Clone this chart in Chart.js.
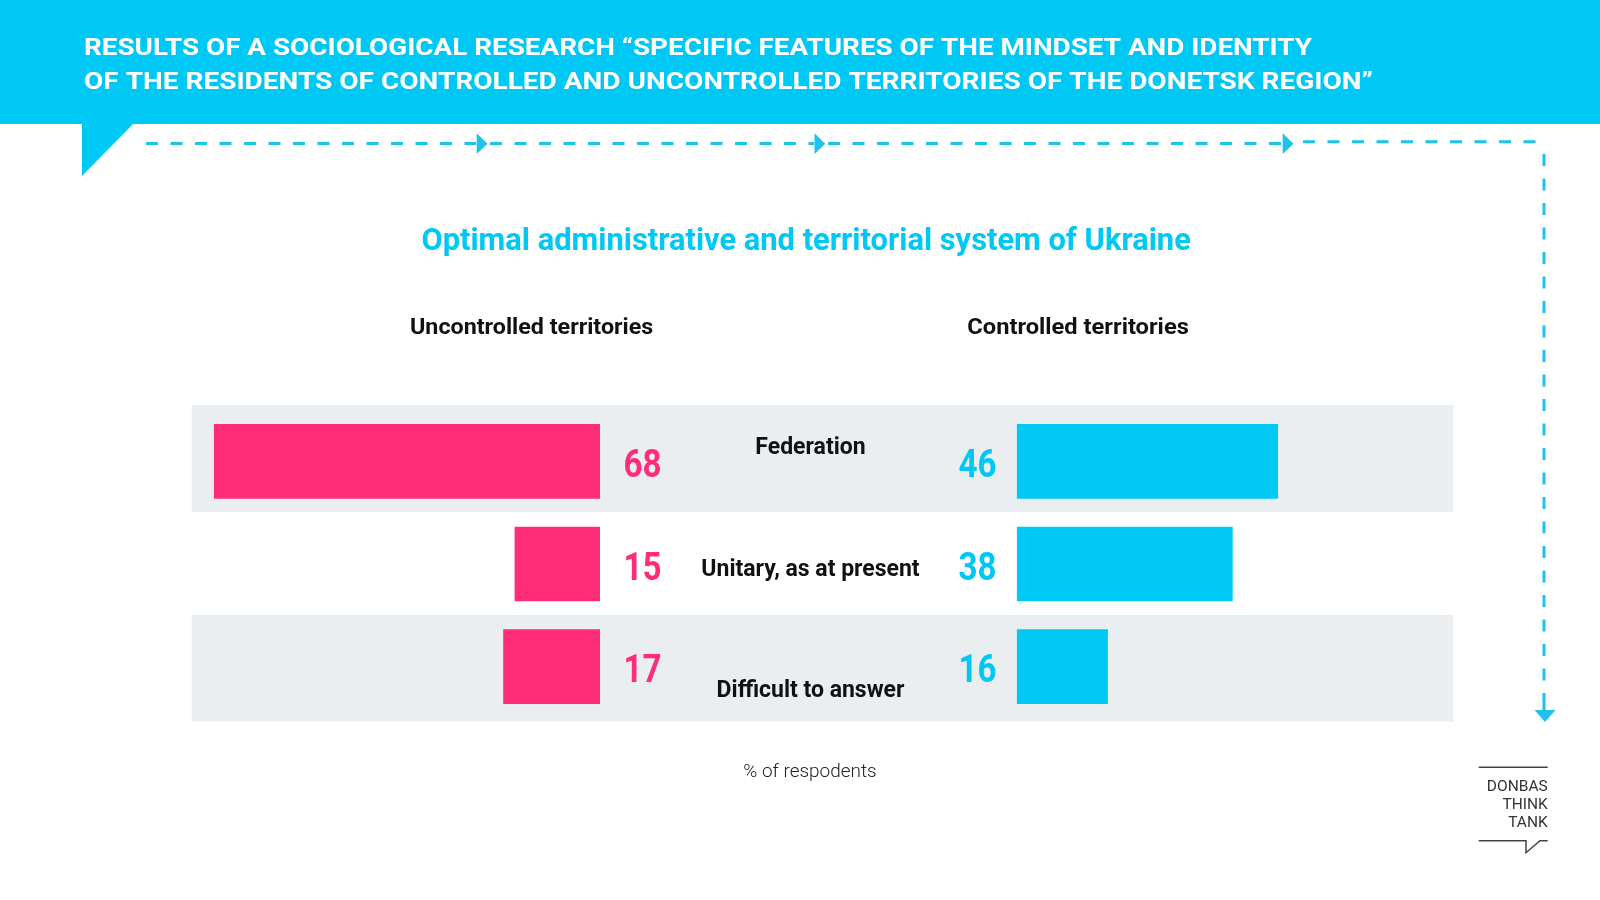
<!DOCTYPE html>
<html>
<head>
<meta charset="utf-8">
<script src="https://cdn.jsdelivr.net/npm/chart.js@4.4.0/dist/chart.umd.min.js"></script>
<style>
html,body{margin:0;padding:0;background:#fff;width:1600px;height:900px;overflow:hidden}
#page{position:relative;width:1600px;height:900px;background:#fff}
canvas{position:absolute}
</style>
</head>
<body>
<div id="page">
<canvas id="deco" width="1600" height="900" style="left:0;top:0"></canvas>
<canvas id="leftChart" width="540" height="308" style="left:140px;top:410px"></canvas>
<canvas id="rightChart" width="800" height="308" style="left:680px;top:410px"></canvas>
</div>
<script>
// ---------- data ----------
const categories = ['Federation', 'Unitary, as at present', 'Difficult to answer'];
const uncontrolled = [68, 15, 17];
const controlled = [46, 38, 16];
const seriesNames = ['Uncontrolled territories', 'Controlled territories'];
const axisMax = 80;
const headerLines = [
  'RESULTS OF A SOCIOLOGICAL RESEARCH \u201CSPECIFIC FEATURES OF THE MINDSET AND IDENTITY',
  'OF THE RESIDENTS OF CONTROLLED AND UNCONTROLLED TERRITORIES OF THE DONETSK REGION\u201D'
];
const titleText = 'Optimal administrative and territorial system of Ukraine';
const footnote = '% of respodents';
const logoLines = ['DONBAS', 'THINK', 'TANK'];

// ---------- style ----------
const CYAN = '#00C8F5';
const DASH = '#1EC2EC';
const PINK = '#FF2D78';
const BAND = '#EBEEF1';
const FONT = 'Roboto, "Liberation Sans", "DejaVu Sans", sans-serif';
const catLabelDy = [-7.4, 11.7, 30.3];

function fitText(ctx, text, x, y, w, font, color, align) {
  ctx.save();
  ctx.font = font;
  ctx.fillStyle = color;
  ctx.textBaseline = 'alphabetic';
  ctx.textAlign = 'left';
  const m = ctx.measureText(text).width;
  const s = w / m;
  let left = x;
  if (align === 'center') left = x - w / 2;
  else if (align === 'right') left = x - w;
  ctx.translate(left, y);
  ctx.scale(s, 1);
  ctx.fillText(text, 0, 0);
  ctx.restore();
}
function scaledText(ctx, text, x, y, font, color, align, sx) {
  ctx.save();
  ctx.font = font;
  ctx.fillStyle = color;
  ctx.textBaseline = 'alphabetic';
  ctx.textAlign = 'left';
  const w = ctx.measureText(text).width * sx;
  let left = x;
  if (align === 'center') left = x - w / 2;
  else if (align === 'right') left = x - w;
  ctx.translate(left, y);
  ctx.scale(sx, 1);
  ctx.fillText(text, 0, 0);
  ctx.restore();
}

// ---------- decoration ----------
(function drawDeco() {
  const c = document.getElementById('deco');
  const ctx = c.getContext('2d');
  ctx.fillStyle = '#fff';
  ctx.fillRect(0, 0, 1600, 900);
  // header
  ctx.fillStyle = CYAN;
  ctx.fillRect(0, 0, 1600, 124);
  ctx.beginPath();
  ctx.moveTo(82, 123); ctx.lineTo(134, 123); ctx.lineTo(82, 176); ctx.closePath();
  ctx.fill();
  fitText(ctx, headerLines[0], 84, 54.5, 1228, 'bold 24.5px ' + FONT, '#fff', 'left');
  fitText(ctx, headerLines[1], 84, 89.2, 1289, 'bold 24.5px ' + FONT, '#fff', 'left');

  // dashed flow line
  ctx.save();
  ctx.strokeStyle = DASH;
  ctx.lineWidth = 3;
  ctx.setLineDash([12, 12.5]);
  const segs = [[146, 476], [490, 814], [828, 1282]];
  segs.forEach(s => { ctx.beginPath(); ctx.moveTo(s[0], 143.6); ctx.lineTo(s[1], 143.6); ctx.stroke(); });
  ctx.beginPath(); ctx.moveTo(1303, 141.7); ctx.lineTo(1545.5, 141.7); ctx.stroke();
  ctx.beginPath(); ctx.moveTo(1544, 154); ctx.lineTo(1544, 706); ctx.stroke();
  ctx.restore();
  ctx.fillStyle = DASH;
  [476.7, 814.5, 1282.7].forEach(ax => {
    ctx.beginPath();
    ctx.moveTo(ax, 133.3); ctx.lineTo(ax + 10.8, 143.7); ctx.lineTo(ax, 154.1); ctx.closePath(); ctx.fill();
  });
  ctx.beginPath();
  ctx.moveTo(1534.5, 710); ctx.lineTo(1555.5, 710); ctx.lineTo(1545, 722); ctx.closePath(); ctx.fill();
  ctx.fillRect(1542.5, 705, 3, 6);

  // title & series headers
  fitText(ctx, titleText, 806.1, 249.5, 769.4, 'bold 32px ' + FONT, CYAN, 'center');
  fitText(ctx, seriesNames[0], 410, 334, 243.3, 'bold 22px ' + FONT, '#111', 'left');
  fitText(ctx, seriesNames[1], 967.3, 334, 221.5, 'bold 22px ' + FONT, '#111', 'left');

  // row bands
  ctx.fillStyle = BAND;
  ctx.fillRect(191.7, 405, 1453.5 - 191.7, 107);
  ctx.fillRect(191.7, 615, 1453.5 - 191.7, 106.5);

  // footnote
  fitText(ctx, footnote, 743.3, 777.3, 133.4, '300 19px ' + FONT, '#222', 'left');

  // logo
  ctx.strokeStyle = '#444';
  ctx.lineWidth = 1.5;
  ctx.beginPath(); ctx.moveTo(1478.7, 767.3); ctx.lineTo(1547.7, 767.3); ctx.stroke();
  ctx.beginPath();
  ctx.moveTo(1478.7, 840.7); ctx.lineTo(1526, 840.7); ctx.lineTo(1526, 852.7);
  ctx.lineTo(1540, 840.7); ctx.lineTo(1547.7, 840.7); ctx.stroke();
  const lb = [791, 809.3, 827.2];
  logoLines.forEach((t, i) => scaledText(ctx, t, 1547.7, lb[i], '15.5px ' + FONT, '#333', 'right', 1.0));
})();

// ---------- charts ----------
const valueLabels = {
  id: 'valueLabels',
  afterDatasetsDraw(chart, args, opts) {
    const ctx = chart.ctx;
    const meta = chart.getDatasetMeta(0);
    meta.data.forEach((el, i) => {
      const v = chart.data.datasets[0].data[i];
      if (opts.side === 'left') {
        scaledText(ctx, String(v), el.base + 23.5, el.y + 15.7, 'bold 39px ' + FONT, opts.color, 'left', 0.85);
      } else {
        scaledText(ctx, String(v), el.base - 20.3, el.y + 15.7, 'bold 39px ' + FONT, opts.color, 'right', 0.85);
      }
    });
    if (opts.side === 'right') {
      chart.data.labels.forEach((lab, i) => {
        const y = chart.scales.y.getPixelForValue(i) + catLabelDy[i];
        scaledText(ctx, lab, opts.catX, y, 'bold 23px ' + FONT, '#111', 'center', 1.0);
      });
    }
  }
};

function makeChart(id, data, color, reverse, padding, side) {
  return new Chart(document.getElementById(id), {
    type: 'bar',
    data: {
      labels: categories,
      datasets: [{ data: data, backgroundColor: color, borderWidth: 0, barThickness: 74 }]
    },
    options: {
      indexAxis: 'y',
      responsive: false,
      animation: false,
      layout: { padding: padding },
      scales: {
        x: { type: 'linear', min: 0, max: axisMax, reverse: reverse, display: false },
        y: { type: 'category', display: false }
      },
      plugins: {
        legend: { display: false },
        tooltip: { enabled: false },
        valueLabels: { side: side, color: color, catX: 810.5 - 680 }
      }
    },
    plugins: [valueLabels]
  });
}

makeChart('leftChart', uncontrolled, PINK, true, { left: 6.2, right: 80, top: 0, bottom: 0 }, 'left');
makeChart('rightChart', controlled, CYAN, false, { left: 336.8, right: 9.4, top: 0, bottom: 0 }, 'right');
</script>
</body>
</html>
